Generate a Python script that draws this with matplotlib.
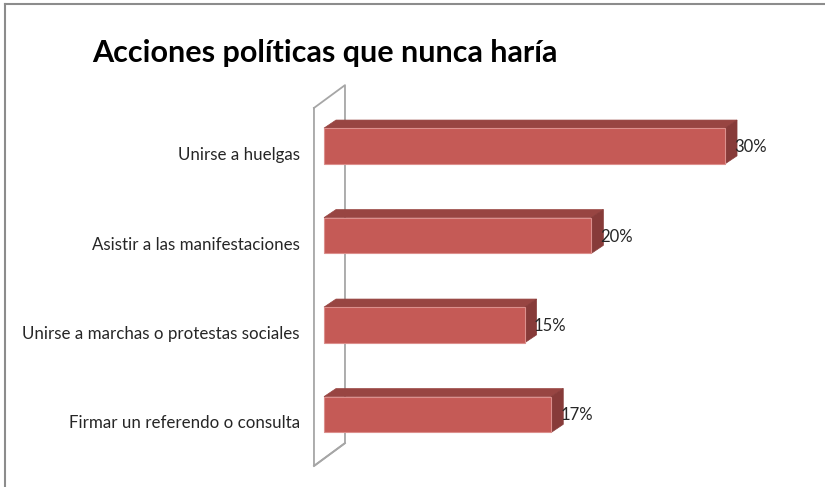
import matplotlib
matplotlib.use("Agg")
import matplotlib.pyplot as plt
from matplotlib.patches import Polygon, Rectangle
from matplotlib.lines import Line2D

plt.rcParams['font.family'] = ['Lato', 'DejaVu Sans']

title = 'Acciones políticas que nunca haría'
categories = ['Unirse a huelgas',
              'Asistir a las manifestaciones',
              'Unirse a marchas o protestas sociales',
              'Firmar un referendo o consulta']
values = [30, 20, 15, 17]

# colours of the three visible faces of each bar
front_c = '#c55a56'
top_c = '#984542'
side_c = '#873b39'

bar_h = 0.4
dx, dy = 0.9, 0.09  # depth of a bar in data units

fig = plt.figure(figsize=(8.25, 4.87), dpi=100)
ax = fig.add_axes([324 / 825, 1 - 459.25 / 487, 401 / 825, 358 / 487])
ax.set_xlim(0, 30)
ax.set_ylim(3.5, -0.5)
ax.axis('off')

# back wall drawn as a thin parallelogram
wall_front, wall_back = -0.75, 1.57
wall = [(wall_front, -0.425), (wall_back, -0.68), (wall_back, 3.32),
        (wall_front, 3.575), (wall_front, -0.425)]
ax.plot([p[0] for p in wall], [p[1] for p in wall], color='#a6a6a6',
        lw=1.3, clip_on=False, zorder=1)
ax.plot([wall_front, wall_back], [3.575, 3.32], color='#a6a6a6', lw=1.3,
        clip_on=False, zorder=1)

for i, (cat, v) in enumerate(zip(categories, values)):
    y0 = i - bar_h / 2
    y1 = i + bar_h / 2
    ax.add_patch(Polygon([(0, y0), (v, y0), (v + dx, y0 - dy), (dx, y0 - dy)],
                         closed=True, facecolor=top_c, edgecolor=top_c,
                         lw=0.5, clip_on=False, zorder=3))
    ax.add_patch(Polygon([(v, y0), (v + dx, y0 - dy), (v + dx, y1 - dy), (v, y1)],
                         closed=True, facecolor=side_c, edgecolor=side_c,
                         lw=0.5, clip_on=False, zorder=3))
    ax.add_patch(Rectangle((0, y0), v, bar_h, facecolor=front_c,
                           edgecolor='#dc8f8c', lw=0.8, clip_on=False, zorder=4))
    ax.annotate(f'{v}%', xy=(v, i), xytext=(9, -1), textcoords='offset pixels',
                ha='left', va='center', fontsize=12, color='#262626', zorder=5)
    ax.annotate(cat, xy=(0, i), xytext=(-24, -9), textcoords='offset pixels',
                ha='right', va='center', fontsize=12.2, color='#262626')

fig.text(92 / 825, 1 - 62 / 487, title, fontsize=22, fontweight='bold',
         ha='left', va='baseline', color='black')

# chart area border (top and left edges only)
fig.add_artist(Line2D([4.5 / 825, 1], [1 - 3.5 / 487, 1 - 3.5 / 487],
                      transform=fig.transFigure, color='#8c8c8c', lw=1.5))
fig.add_artist(Line2D([4.5 / 825, 4.5 / 825], [0, 1 - 3.5 / 487],
                      transform=fig.transFigure, color='#8c8c8c', lw=1.5))

fig.savefig('out.png', dpi=100)
